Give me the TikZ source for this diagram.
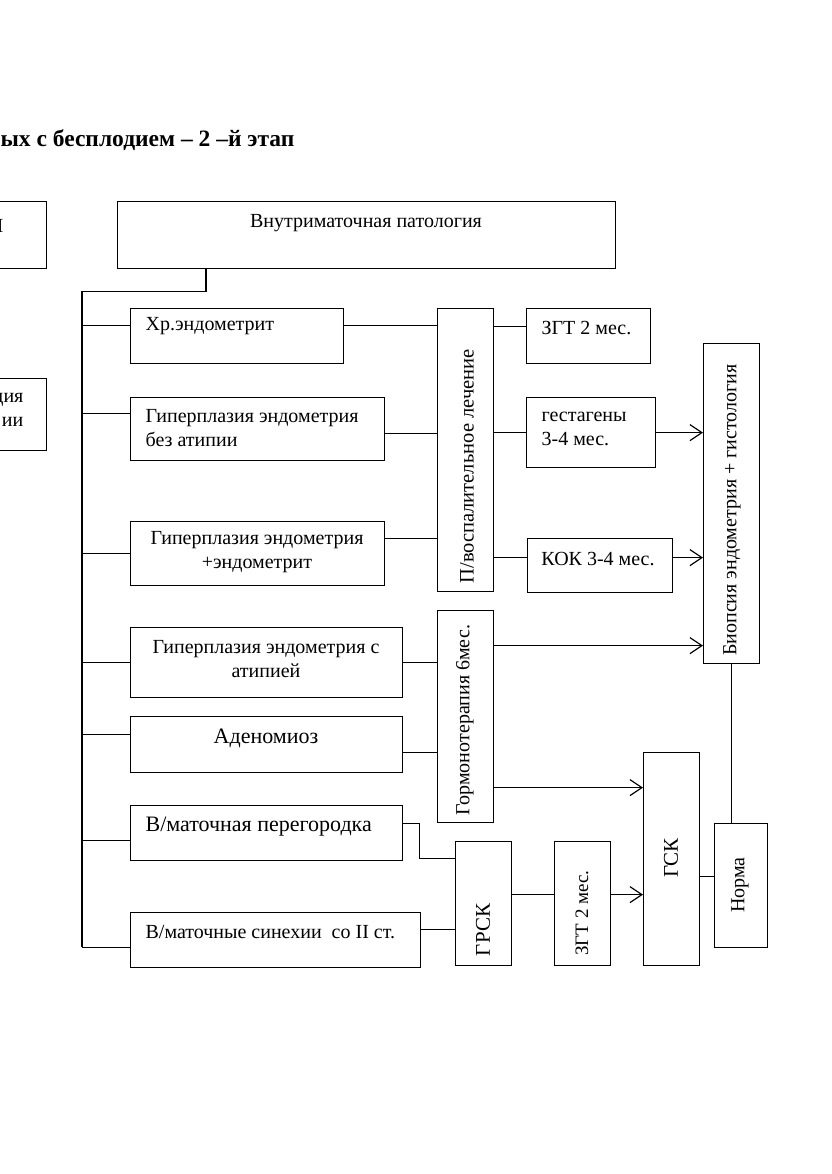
\documentclass[tikz,border=0pt]{standalone}
\usepackage{fontspec}
\setmainfont{Liberation Serif}
\usetikzlibrary{arrows.meta}

\begin{document}
\begin{tikzpicture}[x=1pt, y=-1pt, line width=1.2pt,
  box/.style 2 args = {draw, rectangle, inner sep=0pt, anchor=north west,
    minimum width=#1, minimum height=#2},
  txt/.style = {inner sep=0pt, font=\fontsize{20}{23.5}\selectfont},
  big/.style = {inner sep=0pt, font=\fontsize{22}{26}\selectfont},
  vtxt/.style = {inner sep=0pt, rotate=90, font=\fontsize{20}{24}\selectfont},
  arr/.style = {-{Straight Barb[length=12pt,width=16pt]}}]
  \useasboundingbox (0,0) rectangle (831,1174);
  \clip (0,0) rectangle (831,1174);

  % title
  \node[inner sep=0pt, anchor=west, font=\fontsize{23.5}{28}\selectfont\bfseries]
    (title) at (0,140) {ых с бесплодием – 2 –й этап};

  % boxes cut by the left edge
  \node[box={66pt}{67pt}] (left1) at (-20,201) {};
  \node[txt, anchor=east] (left1t) at (4,226) {Н};
  \node[box={66pt}{72pt}] (left2) at (-20,378) {};
  \node[txt, anchor=east, align=right] (left2t) at (24,410) {дия\\ии};

  % main box
  \node[box={498pt}{67pt}] (patol) at (117,201) {};
  \node[txt, anchor=north] (patolt) at (366,214) {Внутриматочная патология};

  % left column
  \node[box={213pt}{55pt}] (hr) at (130,308) {};
  \node[txt, anchor=west] (hrt) at (145,326) {Хр.эндометрит};
  \node[box={254pt}{63pt}] (gbez) at (130,397) {};
  \node[txt, anchor=west, align=left] (gbezt) at (145,428) {Гиперплазия эндометрия\\без атипии};
  \node[box={254pt}{64pt}] (gend) at (130,521) {};
  \node[txt, align=center] (gendt) at (257,552) {Гиперплазия эндометрия\\+эндометрит};
  \node[box={272pt}{70pt}] (gat) at (130,627) {};
  \node[txt, align=center] (gatt) at (266,659) {Гиперплазия эндометрия с\\атипией};
  \node[box={272pt}{56pt}] (aden) at (130,716) {};
  \node[big] (adent) at (266,738) {Аденомиоз};
  \node[box={272pt}{55pt}] (perg) at (130,805) {};
  \node[big, anchor=west] (pergt) at (145,827) {В/маточная перегородка};
  \node[box={290pt}{55pt}] (sin) at (130,912) {};
  \node[txt, anchor=west] (sint) at (145,932) {В/маточные синехии\ \ со II ст.};

  % treatment
  \node[box={56pt}{283pt}] (pvl) at (437,308) {};
  \node[vtxt, anchor=west, font=\fontsize{20.5}{24}\selectfont] (pvlt) at (467,584) {П/воспалительное лечение};
  \node[box={124pt}{55pt}] (zgt1) at (526,308) {};
  \node[txt, anchor=west] (zgt1t) at (541,328) {ЗГТ 2 мес.};
  \node[box={129pt}{70pt}] (gest) at (526,397) {};
  \node[txt, anchor=west, align=left] (gestt) at (541,429) {гестагены\\3-4 мес.};
  \node[box={145pt}{54pt}] (kok) at (527,538) {};
  \node[txt] (kokt) at (598,559) {КОК 3-4 мес.};
  \node[box={56pt}{320pt}] (bio) at (703,343) {};
  \node[vtxt] (biot) at (732,510) {Биопсия эндометрия + гистология};
  \node[box={56pt}{212pt}] (gorm) at (437,610) {};
  \node[vtxt] (gormt) at (465,720) {Гормонотерапия 6мес.};
  \node[box={56pt}{213pt}] (gsk) at (643,752) {};
  \node[vtxt, font=\fontsize{21}{25}\selectfont] (gskt) at (671,858) {ГСК};
  \node[box={56pt}{124pt}] (grsk) at (455,841) {};
  \node[vtxt, font=\fontsize{21}{25}\selectfont] (grskt) at (483,930) {ГРСК};
  \node[box={56pt}{124pt}] (zgt2) at (554,841) {};
  \node[vtxt, font=\fontsize{19}{23}\selectfont] (zgt2t) at (582,913) {ЗГТ 2 мес.};
  \node[box={53pt}{124pt}] (norm) at (714,823) {};
  \node[vtxt] (normt) at (740,885) {Норма};

  % spine
  \coordinate (spine) at (82,947);
  \draw ([xshift=89pt]patol.south west) -- ++(0,22) -| (spine);
  \foreach \n/\s in {hr/10.5, gbez/15.5, gend/0, gat/0, aden/10, perg/-7.5, sin/-7.5}
    \draw ([yshift=\s pt]\n.west) coordinate (b) -- (b -| spine);

  % into treatment
  \foreach \n/\s in {hr/10.5, gbez/-4.5, gend/15}
    \draw ([yshift=\s pt]\n.east) coordinate (b) -- (b -| pvl.west);
  \foreach \n/\s in {zgt1/9.5, gest/0, kok/8}
    \draw ([yshift=\s pt]\n.west) coordinate (b) -- (b -| pvl.east);
  \draw[arr] (gest.east) -- (gest.east -| bio.west);
  \draw[arr] ([yshift=8pt]kok.east) coordinate (b) -- (b -| bio.west);
  \draw (gat.east) -- (gat.east -| gorm.west);
  \draw ([yshift=-8pt]aden.east) coordinate (b) -- (b -| gorm.west);
  \draw[arr] ([yshift=71pt]gorm.east) coordinate (b) -- (b -| bio.west);
  \draw[arr] ([yshift=-71pt]gorm.east) coordinate (b) -- (b -| gsk.west);

  % surgery
  \draw ([yshift=9.5pt]perg.east) -- ++(16,0) |- ([yshift=45pt]grsk.west);
  \draw ([yshift=10.5pt]sin.east) coordinate (b) -- (b -| grsk.west);
  \draw ([yshift=9pt]grsk.east) coordinate (b) -- (b -| zgt2.west);
  \draw[arr] ([yshift=9pt]zgt2.east) coordinate (b) -- (b -| gsk.west);
  \draw ([yshift=-17.5pt]gsk.east) coordinate (b) -- (b -| norm.west);
  \draw (bio.south) -- (bio.south |- norm.north);
\end{tikzpicture}
\end{document}
